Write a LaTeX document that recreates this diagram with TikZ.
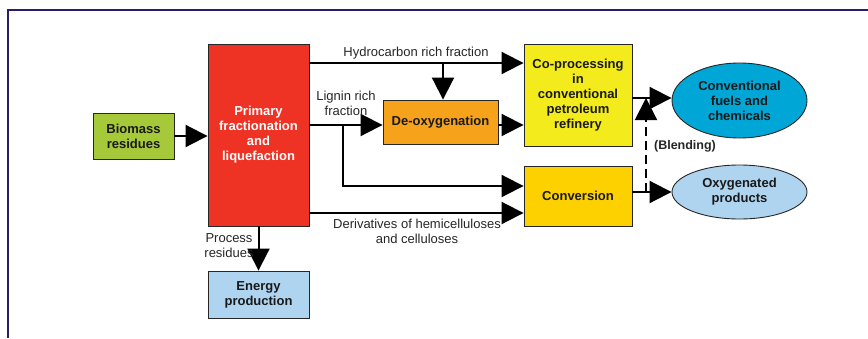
\documentclass[tikz,border=0pt]{standalone}
\usepackage{fontspec}
\setmainfont{Liberation Sans}
\usetikzlibrary{arrows.meta,shapes.geometric}
\definecolor{cgreen}{HTML}{A6C93A}
\definecolor{cred}{HTML}{EE3224}
\definecolor{corange}{HTML}{F6A31B}
\definecolor{cyellow}{HTML}{F3EB1C}
\definecolor{cgold}{HTML}{FDD000}
\definecolor{ccyan}{HTML}{00A6D5}
\definecolor{clblue}{HTML}{AFD4F0}
\definecolor{cframe}{HTML}{2D1C6B}
\tikzset{
  box/.style={draw=black!85, line width=0.9pt, rectangle, align=center, inner sep=0pt,
    font=\fontsize{13}{15}\selectfont\bfseries, text=black!90},
  oval/.style={draw=black!85, line width=0.9pt, ellipse, align=center, inner sep=0pt,
    font=\fontsize{13}{15}\selectfont\bfseries, text=black!90},
  arr/.style={line width=2pt, -{Triangle[length=22pt,width=22pt]}},
  lbl/.style={font=\fontsize{13}{15}\selectfont, text=black!85, align=center, inner sep=0pt},
}
\begin{document}
\begin{tikzpicture}[x=1pt,y=-1pt]
\useasboundingbox (0,0) rectangle (868,338);
\draw[cframe, line width=2.2pt] (8,338) -- (8,10) -- (868,10);

\node[box, fill=cgreen, minimum width=81pt, minimum height=46pt] (bio) at (133.5,136) {Biomass\\residues};
\node[box, fill=cred, text=white, minimum width=101pt, minimum height=182pt] (prim) at (258.5,135) {Primary\\fractionation\\and\\liquefaction};
\node[box, fill=clblue, minimum width=101pt, minimum height=47pt] (energy) at (258.5,294.5) {Energy\\production};
\node[box, fill=corange, minimum width=115pt, minimum height=44pt] (deox) at (440.5,122) {De-oxygenation};
\node[box, fill=cyellow, minimum width=108pt, minimum height=102pt] (coproc) at (578,95) {Co-processing\\in\\conventional\\petroleum\\refinery};
\node[box, fill=cgold, minimum width=108pt, minimum height=60pt] (conv) at (578,196) {Conversion};
\node[oval, fill=ccyan, minimum width=135pt, minimum height=75pt] (fuels) at (739.5,100.5) {Conventional\\fuels and\\chemicals};
\node[oval, fill=clblue, minimum width=135pt, minimum height=54pt] (oxy) at (739.5,192) {Oxygenated\\products};

\coordinate (hc) at (309,63);
\coordinate (hcb) at (443,63);
\coordinate (lig) at (309,125);
\coordinate (ligb) at (343,125);
\coordinate (ligd) at (343,186);
\coordinate (der) at (309,213);
\coordinate (fa) at (632,98);
\coordinate (bl) at (646,98);
\coordinate (bl2) at (646,192);
\coordinate (bl3) at (646,121);

\draw[arr] (bio) -- (prim.west |- bio);
\draw[arr] (prim.south) -- (energy.north);
\draw[arr] (prim.east |- hc) -- (coproc.west |- hc);
\draw[arr] (hcb) -- (deox.north -| hcb);
\draw[arr] (prim.east |- lig) -- (deox.west |- lig);
\draw[arr] (deox.east |- lig) -- (coproc.west |- lig);
\draw[arr] (ligb) -- (ligd) -- (conv.west |- ligd);
\draw[arr] (prim.east |- der) -- (conv.west |- der);
\draw[arr] (coproc.east |- fa) -- (fuels.west |- fa);
\draw[arr] (conv.east |- bl2) -- (oxy.west |- bl2);
\draw[line width=2pt, dash pattern=on 9pt off 5pt] (bl2) -- (bl3);
\draw[arr] (bl3) -- (bl);

\node[lbl] (lhc) at (416,53) {Hydrocarbon rich fraction};
\node[lbl] (llig) at (346,103) {Lignin rich\\fraction};
\node[lbl] (lder) at (417,231) {Derivatives of hemicelluloses\\and celluloses};
\node[lbl] (lproc) at (229,246) {Process\\residues};
\node[lbl, font=\fontsize{12.5}{15}\selectfont\bfseries] (lblend) at (685,146) {(Blending)};
\end{tikzpicture}
\end{document}
